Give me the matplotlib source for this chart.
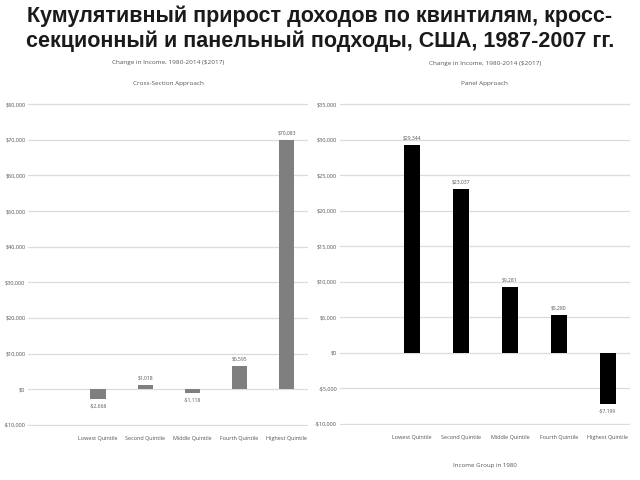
import matplotlib
matplotlib.use("Agg")
import matplotlib.pyplot as plt
from matplotlib.ticker import FuncFormatter

quintiles = ["Lowest Quintile", "Second Quintile", "Middle Quintile",
             "Fourth Quintile", "Highest Quintile"]
cross_section = [-2668, 1018, -1118, 6595, 70083]
panel = [29344, 23037, 9281, 5280, -7199]

cross_ticks = list(range(-10000, 80001, 10000))
panel_ticks = list(range(-10000, 35001, 5000))

title = ("Кумулятивный прирост доходов по квинтилям, кросс-\n"
         "секционный и панельный подходы, США, 1987-2007 гг.")

SMALL = "#555555"
GRID = "#dcdcdc"


def money(v, pos=None):
    v = int(round(v))
    if v < 0:
        return "-${:,}".format(-v)
    return "${:,}".format(v)


def draw_panel(ax, values, ticks, color, head, sub, xlabel=None):
    x = range(len(values))
    bars = ax.bar(x, values, width=0.32, color=color, zorder=3)
    span = ticks[-1] - ticks[0]
    ax.set_ylim(ticks[0] - span * 0.004, ticks[-1] + span * 0.004)
    ax.set_xlim(-1.48, 4.45)
    ax.set_yticks(ticks)
    ax.yaxis.set_major_formatter(FuncFormatter(money))
    ax.set_xticks(list(x))
    ax.set_xticklabels(quintiles)
    ax.grid(axis="y", color=GRID, lw=0.9, zorder=0)
    for s in ax.spines.values():
        s.set_visible(False)
    ax.tick_params(length=0, labelsize=4.0, colors=SMALL, pad=2)
    ax.tick_params(axis="x", pad=7)
    for b, v in zip(bars, values):
        off = span * 0.014
        if v >= 0:
            ax.text(b.get_x() + b.get_width() / 2, v + off, money(v),
                    ha="center", va="bottom", fontsize=3.6, color=SMALL)
        else:
            ax.text(b.get_x() + b.get_width() / 2, v - off, money(v),
                    ha="center", va="top", fontsize=3.6, color=SMALL)
    ax.text(0.5, 1.125, head, transform=ax.transAxes, ha="center",
            va="center", fontsize=4.6, color=SMALL)
    ax.text(0.5, 1.06, sub, transform=ax.transAxes, ha="center",
            va="center", fontsize=4.6, color=SMALL)
    if xlabel:
        ax.set_xlabel(xlabel, fontsize=4.4, color=SMALL, labelpad=17)


plt.rcParams["font.family"] = ["Open Sans", "DejaVu Sans"]
fig = plt.figure(figsize=(6.4, 4.8), dpi=100)

ax1 = fig.add_axes([0.044, 0.1125, 0.437, 0.673])
draw_panel(ax1, cross_section, cross_ticks, "#7f7f7f",
           "Change in Income, 1980-2014 ($2017)", "Cross-Section Approach")

ax2 = fig.add_axes([0.531, 0.115, 0.453, 0.670])
draw_panel(ax2, panel, panel_ticks, "black",
           "Change in Income, 1980-2014 ($2017)", "Panel Approach",
           xlabel="Income Group in 1980")

fig.text(0.5, 0.94, title, ha="center", va="center", fontsize=15.5,
         fontweight="bold", family=["Liberation Sans", "DejaVu Sans"],
         color="#1a1a1a", linespacing=1.22)

fig.savefig("out.png", dpi=100)
